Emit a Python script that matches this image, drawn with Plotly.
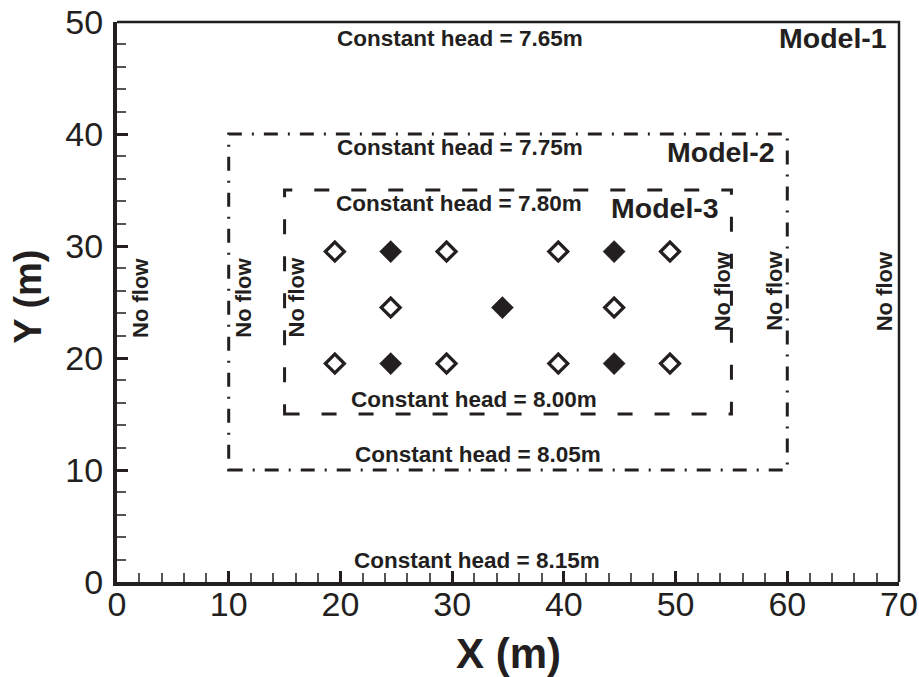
import plotly.graph_objects as go

# Well locations (m)
open_x = [19.5, 29.5, 39.5, 49.5, 24.5, 44.5, 19.5, 29.5, 39.5, 49.5]
open_y = [29.5, 29.5, 29.5, 29.5, 24.5, 24.5, 19.5, 19.5, 19.5, 19.5]
filled_x = [24.5, 44.5, 34.5, 24.5, 44.5]
filled_y = [29.5, 29.5, 24.5, 19.5, 19.5]

# Model domains: x0, x1, y0, y1
model2_box = [10, 60, 10, 40]
model3_box = [15, 55, 15, 35]

# Labels: (text, x, y)
head_labels = [
    ("Constant head = 7.65m", 30.7, 48.5),
    ("Constant head = 7.75m", 30.7, 38.8),
    ("Constant head = 7.80m", 30.6, 33.8),
    ("Constant head = 8.00m", 32.0, 16.3),
    ("Constant head = 8.05m", 32.3, 11.35),
    ("Constant head = 8.15m", 32.2, 1.9),
]
model_labels = [
    ("Model-1", 69.1, 48.6),
    ("Model-2", 59.1, 38.4),
    ("Model-3", 54.1, 33.4),
]
noflow_x = [2.1, 11.3, 16.1, 54.2, 58.9, 68.7]
noflow_y = [25.4, 25.4, 25.4, 26.0, 26.0, 26.0]

FONT = "Liberation Sans, Arial, sans-serif"
INK = "#231f20"

fig = go.Figure()

fig.add_trace(go.Scatter(
    x=open_x, y=open_y, mode="markers",
    marker=dict(symbol="diamond-open", size=14.5, color=INK, line=dict(width=3.3, color=INK)),
    showlegend=False, hoverinfo="skip"))
fig.add_trace(go.Scatter(
    x=filled_x, y=filled_y, mode="markers",
    marker=dict(symbol="diamond", size=17, color=INK, line=dict(width=0.5, color=INK)),
    showlegend=False, hoverinfo="skip"))

x0, x1, y0, y1 = model2_box
fig.add_shape(type="rect", x0=x0, x1=x1, y0=y0, y1=y1, xref="x", yref="y",
              line=dict(color=INK, width=3, dash="14px,10px,2px,10px"))
x0, x1, y0, y1 = model3_box
fig.add_shape(type="rect", x0=x0, x1=x1, y0=y0, y1=y1, xref="x", yref="y",
              line=dict(color=INK, width=3, dash="15px,22px"))

# top and right frame (thinner)
fig.add_shape(type="path", path="M 0,1 L 1,1 L 1,0", xref="paper", yref="paper",
              line=dict(color=INK, width=2.5))

for t, x, y in head_labels:
    fig.add_annotation(x=x, y=y, text=t, showarrow=False, xanchor="center", yanchor="middle",
                       font=dict(family=FONT, size=22.5, color=INK, weight="bold"))
for t, x, y in model_labels:
    fig.add_annotation(x=x, y=y, text=t, showarrow=False, xanchor="right", yanchor="middle",
                       font=dict(family=FONT, size=28.5, color=INK, weight="bold"))
for x, y in zip(noflow_x, noflow_y):
    fig.add_annotation(x=x, y=y, text="No flow", showarrow=False, textangle=-90,
                       xanchor="center", yanchor="middle",
                       font=dict(family=FONT, size=22, color=INK, weight="bold"))

fig.add_annotation(x=0.5, y=-0.127, xref="paper", yref="paper", text="X (m)", showarrow=False,
                   xanchor="center", yanchor="middle",
                   font=dict(family=FONT, size=42, color=INK, weight="bold"))
fig.add_annotation(x=-0.114, y=0.509, xref="paper", yref="paper", text="Y (m)", showarrow=False,
                   textangle=-90, xanchor="center", yanchor="middle",
                   font=dict(family=FONT, size=38, color=INK, weight="bold"))

axis_common = dict(
    showgrid=False, zeroline=False, showline=True, linewidth=4, linecolor=INK,
    ticks="inside", ticklen=11, tickwidth=3, tickcolor=INK,
    tickfont=dict(family=FONT, size=34, color=INK),
    minor=dict(dtick=2, ticks="inside", ticklen=9, tickwidth=1.5, tickcolor="#555"),
    dtick=10, mirror=False, automargin=False, ticklabeloverflow="allow",
)
fig.update_xaxes(range=[0, 70], ticklabelstandoff=-11, **axis_common)
fig.update_yaxes(range=[0, 50], ticklabelstandoff=3, **axis_common)

fig.update_layout(
    width=919, height=677,
    margin=dict(l=117, r=20, t=22, b=95),
    plot_bgcolor="white", paper_bgcolor="white",
    showlegend=False,
)

# remove the default page margin so the figure fills the window exactly
fig.write_html("out.html",
               config={"displayModeBar": False},
               post_script="document.body.style.margin='0';document.body.style.overflow='hidden';")
